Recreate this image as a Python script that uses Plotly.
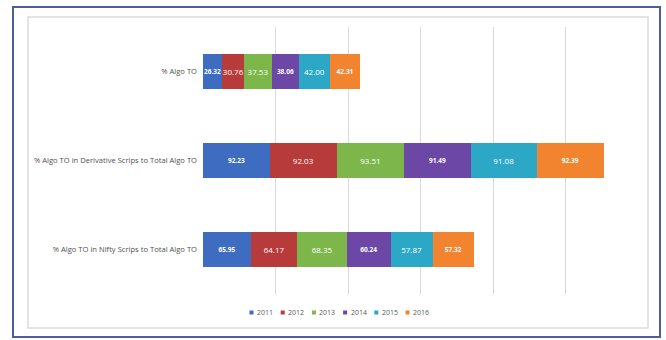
import plotly.graph_objects as go

# Categories (top to bottom) and yearly shares of algorithmic turnover
categories = [
    "% Algo TO",
    "% Algo TO in Derivative Scrips to Total Algo TO",
    "% Algo TO in Nifty Scrips to Total Algo TO",
]
years = ["2011", "2012", "2013", "2014", "2015", "2016"]
values = {
    "2011": [26.32, 92.23, 65.95],
    "2012": [30.76, 92.03, 64.17],
    "2013": [37.53, 93.51, 68.35],
    "2014": [38.06, 91.49, 60.24],
    "2015": [42.00, 91.08, 57.87],
    "2016": [42.31, 92.39, 57.32],
}
colors = ["#3d6cc0", "#b83b3b", "#7db64b", "#6c47a6", "#2ca7c6", "#f3842f"]
bold_years = {"2011", "2014", "2016"}

FONT = "Liberation Sans Narrow, Open Sans, sans-serif"
W, H = 666, 340
L, R, T, B = 203, 28, 27, 46
PW, PH = W - L - R, H - T - B


def px_x(x):
    return (x - L) / PW


def px_y(y):
    return (H - B - y) / PH


fig = go.Figure()
for year, color in zip(years, colors):
    bold = year in bold_years
    fig.add_trace(go.Bar(
        y=categories,
        x=values[year],
        name=year,
        orientation="h",
        marker=dict(color=color, line=dict(width=0)),
        text=[f"{v:.2f}" for v in values[year]],
        texttemplate="<b>%{text}</b>" if bold else "%{text}",
        textposition="inside",
        insidetextanchor="middle",
        textangle=0,
        constraintext="none",
        textfont=dict(color="white", size=6.5 if bold else 8, family=FONT),
        showlegend=False,
        hoverinfo="skip",
    ))

shapes = [
    # outer blue frame
    dict(type="rect", xref="paper", yref="paper",
         x0=px_x(13), x1=px_x(660), y0=px_y(337), y1=px_y(7),
         line=dict(color="#4d5e9c", width=2), layer="below"),
    # inner chart-area border
    dict(type="rect", xref="paper", yref="paper",
         x0=px_x(28), x1=px_x(648), y0=px_y(328), y1=px_y(17),
         line=dict(color="#dcdcdc", width=1.5), layer="below"),
]

# legend: small coloured squares with year labels
annotations = []
leg_x0, leg_pitch, leg_y = 251.5, 31.2, 312.5
for i, (year, color) in enumerate(zip(years, colors)):
    cx = leg_x0 + i * leg_pitch
    shapes.append(dict(type="rect", xref="paper", yref="paper",
                       x0=px_x(cx - 2), x1=px_x(cx + 2),
                       y0=px_y(leg_y + 2), y1=px_y(leg_y - 2),
                       fillcolor=color, line=dict(width=0)))
    annotations.append(dict(xref="paper", yref="paper",
                            x=px_x(cx + 3.5), y=px_y(leg_y),
                            xanchor="left", yanchor="middle",
                            text=year, showarrow=False,
                            font=dict(size=7, color="#595959", family=FONT)))

fig.update_layout(
    width=W, height=H,
    margin=dict(l=L, r=R, t=T, b=B, pad=0),
    barmode="stack",
    bargap=0.6,
    paper_bgcolor="white",
    plot_bgcolor="white",
    showlegend=False,
    shapes=shapes,
    annotations=annotations,
    xaxis=dict(range=[0, 600], dtick=100, showgrid=True, gridcolor="#d9d9d9",
               gridwidth=1, showticklabels=False, zeroline=False,
               showline=False, ticks=""),
    yaxis=dict(autorange="reversed", showgrid=False, showline=False, ticks="",
               ticklabelstandoff=5,
               tickfont=dict(size=7.6, color="#505050", family=FONT)),
)

fig.write_html("out.html")
